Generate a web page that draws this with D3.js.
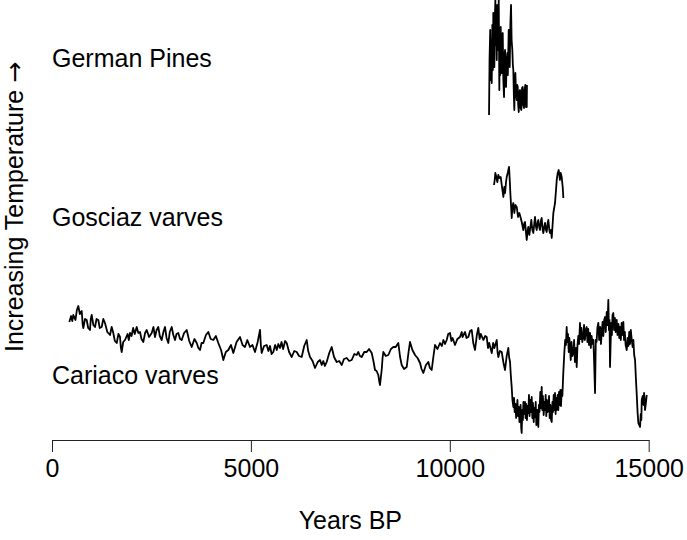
<!DOCTYPE html>
<html>
<head>
<meta charset="utf-8">
<script src="https://cdn.jsdelivr.net/npm/d3@7"></script>
<style>
  body { margin: 0; background: #fff; }
  svg text { font-family: "Liberation Sans", Arial, Helvetica, sans-serif; fill: #000; }
</style>
</head>
<body>
<div id="chart"></div>
<script>
// [year BP, relative temperature index] - three stacked proxy records
var cariaco = [[435,118],[480,124],[510,119],[536,125],[590,120],[625,130],[661,134],[700,126],[747,129],[770,116],[787,112],[830,121],[872,120],[910,112],[955,110],[975,121],[998,125],[1040,115],[1081,113],[1120,121],[1164,120],[1200,112],[1249,113],[1290,121],[1332,117],[1390,108],[1458,105],[1500,113],[1541,107],[1580,99],[1627,97],[1670,106],[1710,103],[1730,93],[1752,88],[1790,98],[1835,100],[1900,106],[1930,100],[1961,107],[2000,104],[2040,112],[2080,106],[2129,113],[2170,107],[2212,108],[2250,101],[2295,98],[2340,107],[2381,110],[2440,103],[2506,107],[2550,113],[2589,103],[2630,110],[2672,113],[2710,104],[2757,100],[2800,108],[2841,113],[2880,102],[2924,97],[2960,108],[3009,113],[3050,105],[3092,100],[3130,106],[3175,107],[3220,101],[3261,100],[3320,107],[3386,110],[3450,99],[3512,93],[3580,101],[3638,97],[3680,92],[3721,90],[3760,97],[3804,97],[3870,105],[3930,108],[3990,101],[4055,100],[4120,104],[4181,97],[4250,90],[4307,80],[4370,88],[4432,90],[4500,95],[4558,87],[4640,98],[4726,103],[4790,95],[4852,93],[4910,100],[4977,93],[5040,95],[5103,88],[5170,98],[5229,110],[5250,95],[5271,87],[5330,94],[5397,95],[5440,89],[5480,94],[5520,86],[5563,88],[5610,95],[5650,90],[5690,96],[5732,92],[5770,98],[5810,91],[5860,99],[5900,97],[5960,88],[6026,83],[6090,89],[6152,88],[6210,84],[6277,83],[6340,94],[6403,100],[6440,89],[6486,83],[6550,79],[6612,72],[6680,78],[6738,80],[6780,75],[6820,79],[6860,74],[6905,78],[6970,87],[7031,93],[7090,83],[7157,78],[7220,79],[7283,75],[7340,81],[7408,82],[7470,79],[7534,80],[7600,86],[7660,85],[7701,88],[7740,84],[7785,83],[7850,88],[7911,88],[7970,91],[8037,87],[8080,79],[8120,70],[8160,69],[8203,65],[8230,58],[8246,55],[8270,64],[8288,70],[8310,82],[8329,88],[8390,84],[8455,85],[8520,91],[8581,93],[8640,93],[8706,97],[8750,83],[8791,75],[8850,71],[8917,73],[8960,87],[9000,98],[9060,90],[9126,85],[9190,82],[9252,77],[9290,71],[9334,67],[9400,75],[9460,78],[9500,72],[9545,70],[9590,84],[9628,95],[9690,91],[9754,97],[9800,94],[9840,100],[9880,96],[9922,100],[9960,106],[10005,107],[10040,99],[10070,102],[10131,95],[10190,101],[10257,103],[10300,108],[10320,103],[10383,108],[10420,102],[10466,103],[10510,109],[10551,110],[10590,97],[10634,90],[10680,105],[10717,112],[10750,101],[10780,106],[10843,100],[10890,104],[10928,103],[10960,92],[10990,97],[11054,87],[11090,97],[11120,92],[11180,100],[11200,88],[11220,83],[11260,89],[11305,88],[11350,77],[11388,70],[11430,84],[11471,92],[11490,83],[11514,78],[11535,64],[11556,53],
  [11575,40],[11597,33],[11615,42],[11630,28],[11650,36],[11668,22],[11682,30],[11700,40],[11715,24],[11735,33],[11750,18],[11765,22],[11780,35],[11795,12],[11807,7],[11822,30],[11838,20],[11850,38],[11870,26],[11891,38],[11905,22],[11920,36],[11940,20],[11955,34],[11974,27],[11990,45],[12005,24],[12020,40],[12040,28],[12059,43],[12075,22],[12090,37],[12110,18],[12125,32],[12142,23],[12160,38],[12175,15],[12195,30],[12210,20],[12225,13],[12240,35],[12255,28],[12275,48],[12290,32],[12310,53],[12325,30],[12340,44],[12360,25],[12378,38],[12394,30],[12410,45],[12425,24],[12440,40],[12460,28],[12477,33],[12495,44],[12510,22],[12528,35],[12545,20],[12562,18],[12580,38],[12595,28],[12612,45],[12628,30],[12645,47],[12660,26],[12675,42],[12690,30],[12710,45],[12728,30],[12745,48],[12760,35],[12780,50],[12795,34],[12813,50],[12830,44],[12853,67],
  [12880,88],[12900,100],[12920,95],[12938,113],[12955,98],[12970,106],[12990,88],[13005,102],[13022,93],[13040,80],[13060,98],[13080,84],[13105,87],[13125,100],[13145,78],[13170,92],[13190,73],[13210,95],[13230,104],[13250,96],[13273,117],[13290,101],[13310,112],[13330,98],[13356,103],[13375,115],[13395,100],[13420,110],[13441,113],[13460,98],[13480,111],[13500,95],[13525,107],[13545,92],[13565,104],[13590,96],[13610,100],[13630,75],[13651,47],[13670,100],[13690,98],[13710,112],[13734,117],[13755,100],[13780,113],[13800,96],[13819,107],[13840,118],[13860,104],[13880,120],[13902,123],[13920,108],[13945,128],[13965,115],[13985,140],[14000,110],[14015,120],[14028,73],[14045,100],[14060,117],[14075,105],[14090,125],[14111,127],[14130,110],[14150,122],[14170,108],[14196,120],[14215,105],[14240,116],[14260,102],[14280,113],[14300,100],[14320,117],[14345,105],[14363,118],[14380,100],[14400,108],[14420,95],[14448,90],[14470,102],[14490,94],[14510,108],[14530,96],[14550,110],[14574,100],[14595,93],[14615,100],[14635,85],[14657,80],[14680,60],[14700,45],[14720,28],[14740,17],[14760,15],[14782,13],[14800,26],[14815,20],[14825,40],[14850,44],[14870,35],[14883,47],[14900,38],[14908,30],[14930,37],[14950,45]];

var gosciaz = [[11112,255],[11129,260],[11145,267],[11170,263],[11195,258],[11220,265],[11245,262],[11280,263],[11306,255],[11331,248],[11346,243],[11371,253],[11389,247],[11414,258],[11431,263],[11456,267],[11489,273],[11507,260],[11522,247],[11557,222],[11572,233],[11597,237],[11622,227],[11648,235],[11683,233],[11715,223],[11748,227],[11783,222],[11808,218],[11848,210],[11873,217],[11891,218],[11916,207],[11934,200],[11959,210],[11974,213],[12000,205],[12025,213],[12050,220],[12075,210],[12100,207],[12125,217],[12142,223],[12168,213],[12185,210],[12210,218],[12225,220],[12251,212],[12268,210],[12293,220],[12310,222],[12336,210],[12351,207],[12376,213],[12394,217],[12419,210],[12436,208],[12461,217],[12477,220],[12502,210],[12520,207],[12545,210],[12562,202],[12587,217],[12603,227],[12628,233],[12645,237],[12670,250],[12688,260],[12713,267],[12738,270],[12754,265],[12768,260],[12788,267],[12813,263],[12838,253],[12855,242]];

var germanPines = [[10986,325],[10999,380],[11016,410],[11029,360],[11041,400],[11054,357],[11069,415],[11082,370],[11094,427],[11107,385],[11120,373],[11132,420],[11145,440],[11157,395],[11167,420],[11180,380],[11192,435],[11205,430],[11217,390],[11230,440],[11245,350],[11258,400],[11268,365],[11280,413],[11293,380],[11306,367],[11318,405],[11331,407],[11346,360],[11363,343],[11376,385],[11389,390],[11401,355],[11414,353],[11429,380],[11446,387],[11459,365],[11481,410],[11494,385],[11507,373],[11522,415],[11539,435],[11554,400],[11572,390],[11585,375],[11597,370],[11610,345],[11622,330],[11635,360],[11648,367],[11665,345],[11683,340],[11695,355],[11708,353],[11720,335],[11733,328],[11748,348],[11765,350],[11780,332],[11798,330],[11816,352],[11833,353],[11848,335],[11866,332],[11881,350],[11899,355],[11916,333],[11934,333],[11939,355]];

var seriesLabels = ["German Pines", "Gosciaz varves", "Cariaco varves"];
var labelY = [67, 226, 384];
var xTicks = [0, 5000, 10000, 15000];

var svgWidth = 687, svgHeight = 540;
var axisY = 440;
var fontSize = "25px";

var svg = d3.select("#chart").append("svg")
    .attr("width", svgWidth)
    .attr("height", svgHeight);

var x = d3.scaleLinear().domain([0, 15000]).range([52, 648.7]);
var y = d3.scaleLinear().domain([0, 440]).range([440, 0]);

var line = d3.line()
    .x(function (d) { return x(d[0]); })
    .y(function (d) { return y(d[1]); });

[cariaco, gosciaz, germanPines].forEach(function (s) {
    svg.append("path")
        .datum(s)
        .attr("d", line)
        .attr("fill", "none")
        .attr("stroke", "#000")
        .attr("stroke-width", 1.8)
        .attr("stroke-linejoin", "round");
});

var xAxis = svg.append("g")
    .attr("transform", "translate(0," + axisY + ")")
    .call(d3.axisBottom(x).tickValues(xTicks).tickFormat(d3.format("d"))
        .tickSize(12).tickSizeOuter(0).tickPadding(7));
xAxis.selectAll("text").style("font-size", fontSize).attr("fill", "#000");
xAxis.selectAll("line, path").attr("stroke", "#222");

svg.selectAll(".slabel")
    .data(seriesLabels)
    .enter()
    .append("text")
    .attr("class", "slabel")
    .attr("x", 52)
    .attr("y", function (d, i) { return labelY[i]; })
    .style("font-size", fontSize)
    .text(function (d) { return d; });

svg.append("text")
    .attr("x", (x(0) + x(15000)) / 2)
    .attr("y", 529)
    .attr("text-anchor", "middle")
    .style("font-size", fontSize)
    .text("Years BP");

var ylab = svg.append("text")
    .attr("transform", "translate(23,352) rotate(-90)")
    .style("font-size", fontSize);
ylab.append("tspan").text("Increasing Temperature ");
ylab.append("tspan").style("font-family", "'DejaVu Sans'").text("\u2192");
</script>
</body>
</html>
